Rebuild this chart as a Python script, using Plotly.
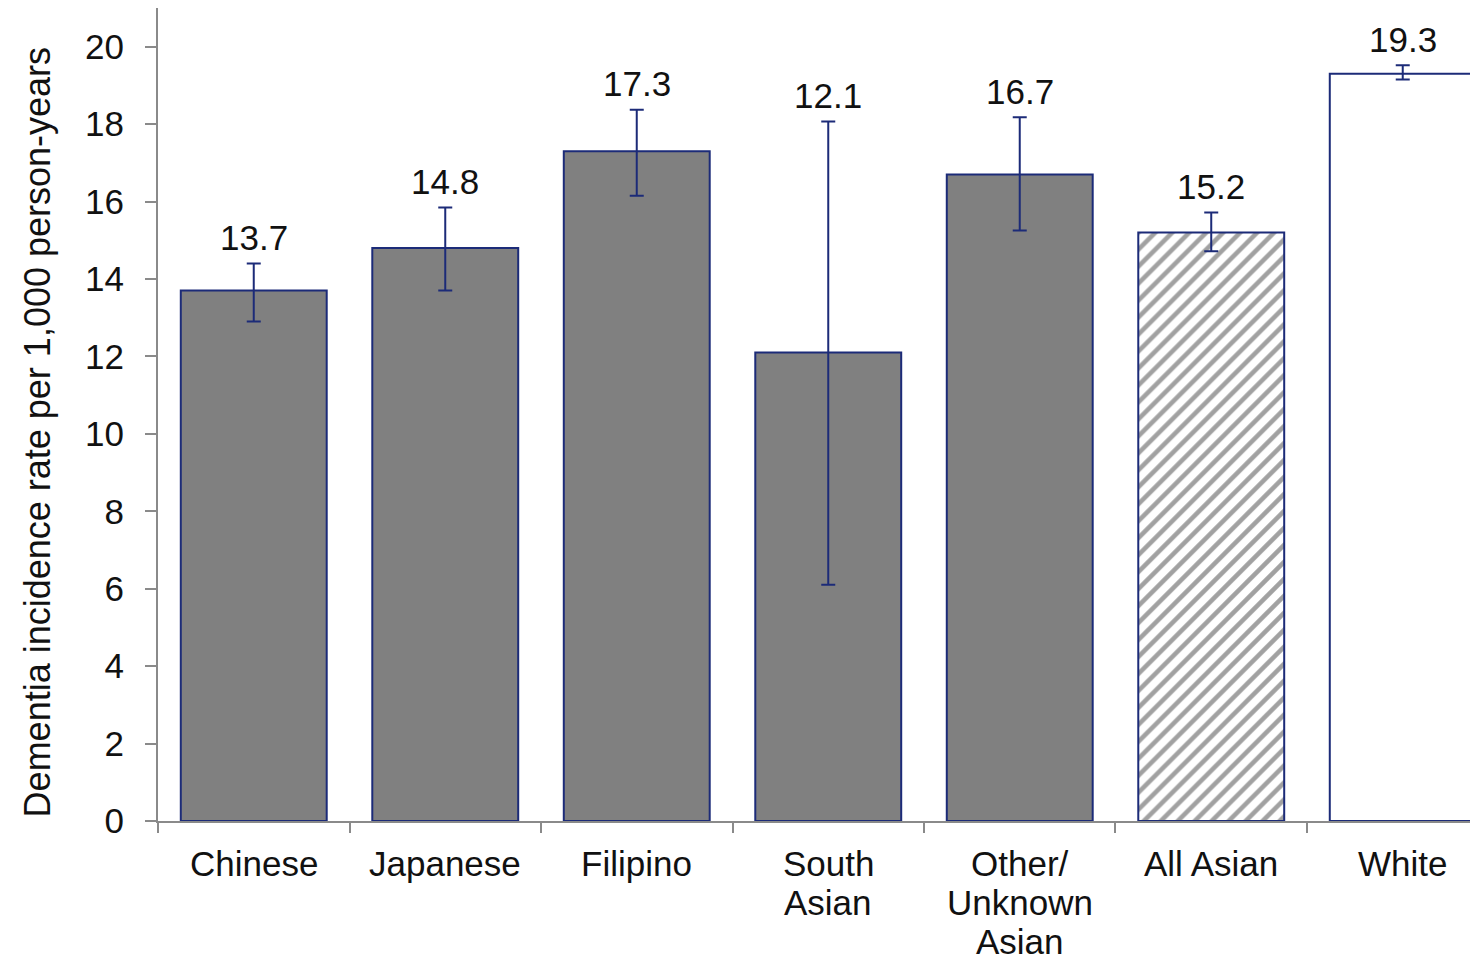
import plotly.graph_objects as go

categories = ["Chinese", "Japanese", "Filipino", "South Asian",
              "Other/ Unknown Asian", "All Asian", "White"]
category_lines = [["Chinese"], ["Japanese"], ["Filipino"], ["South", "Asian"],
                  ["Other/", "Unknown", "Asian"], ["All Asian"], ["White"]]
rates = [13.7, 14.8, 17.3, 12.1, 16.7, 15.2, 19.3]
ci_lower = [12.9, 13.7, 16.15, 6.1, 15.25, 14.72, 19.15]
ci_upper = [14.4, 15.85, 18.37, 18.07, 18.18, 15.72, 19.52]
rate_labels = ["13.7", "14.8", "17.3", "12.1", "16.7", "15.2", "19.3"]
fill_colors = ["#808080", "#808080", "#808080", "#808080", "#808080", "#ffffff", "#ffffff"]
patterns = ["", "", "", "", "", "/", ""]
y_ticks = [0, 2, 4, 6, 8, 10, 12, 14, 16, 18, 20]

NAVY = "#1c2b78"
AXIS = "#8a8a8a"
FONT = "Arial, Liberation Sans, sans-serif"
FS = 35
TXT = "#111111"

fig = go.Figure()
fig.add_trace(go.Bar(
    x=categories,
    y=rates,
    width=0.762,
    marker=dict(
        color=fill_colors,
        line=dict(color=NAVY, width=2),
        pattern=dict(shape=patterns, fgcolor="#808080", size=12, solidity=0.38),
    ),
    error_y=dict(
        type="data",
        symmetric=False,
        array=[u - r for u, r in zip(ci_upper, rates)],
        arrayminus=[r - l for r, l in zip(rates, ci_lower)],
        color=NAVY,
        thickness=2,
        width=7,
    ),
    showlegend=False,
))

# value labels above the error bars
for c, u, t in zip(categories, ci_upper, rate_labels):
    fig.add_annotation(x=c, y=u, text=t, showarrow=False, yanchor="middle",
                       yshift=26, font=dict(family=FONT, size=FS, color=TXT))

# category labels (one line each, tighter line spacing as in the reference)
for c, lines in zip(categories, category_lines):
    for i, line in enumerate(lines):
        fig.add_annotation(x=c, y=0, text=line, showarrow=False, yanchor="middle",
                           yshift=-(42 + 39 * i), borderpad=0,
                           font=dict(family=FONT, size=FS, color=TXT))

fig.add_annotation(xref="paper", yref="paper", x=0, y=0.478, xshift=-121,
                   text="Dementia incidence rate per 1,000 person-years",
                   textangle=-90, showarrow=False, xanchor="center", yanchor="middle",
                   font=dict(family=FONT, size=36, color=TXT))

fig.update_layout(
    width=1470, height=953,
    margin=dict(l=150, r=0, t=0, b=140, autoexpand=False),
    paper_bgcolor="white", plot_bgcolor="white",
    font=dict(family=FONT, size=FS, color=TXT),
)
fig.update_xaxes(
    type="category",
    range=[-0.5, 6.393],
    automargin=False,
    showticklabels=False,
    showline=True, linecolor=AXIS, linewidth=2,
    ticks="outside", tickson="boundaries", ticklen=10, tickcolor=AXIS, tickwidth=2,
    showgrid=False, zeroline=False,
)
fig.update_yaxes(
    range=[0, 21],
    tickvals=y_ticks,
    automargin=False,
    showline=True, linecolor=AXIS, linewidth=2,
    ticks="outside", ticklen=11, tickcolor=AXIS, tickwidth=2,
    showgrid=False, zeroline=False,
    tickfont=dict(family=FONT, size=FS, color=TXT),
    ticklabelstandoff=14,
)

fig.write_html("out.html")
